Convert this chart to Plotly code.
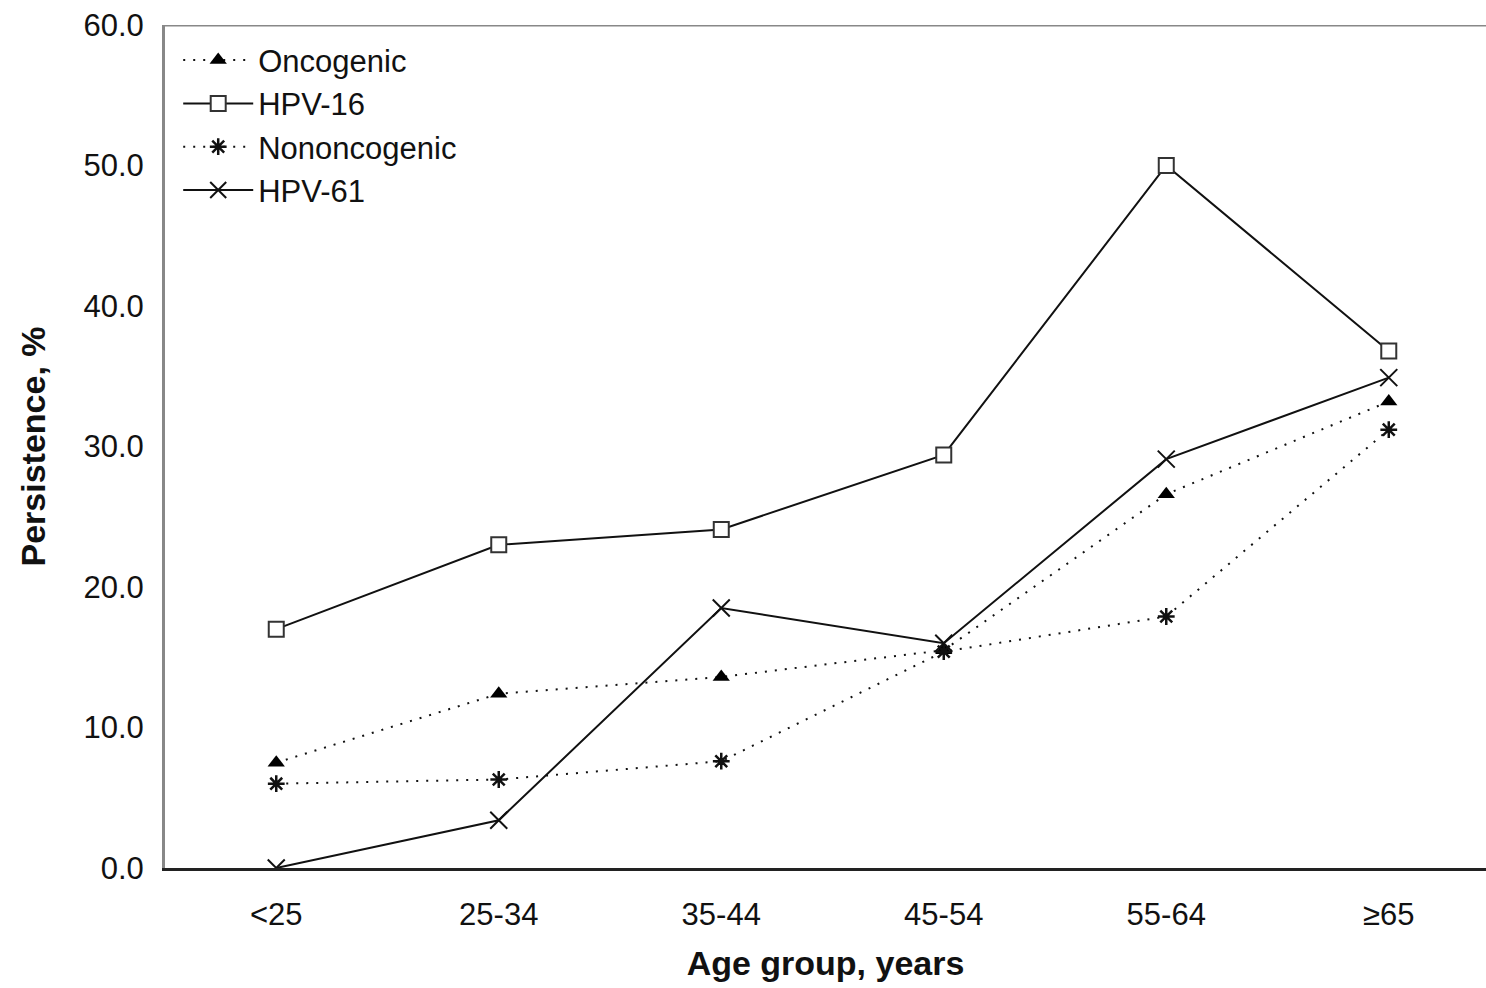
import plotly.graph_objects as go

categories = ["<25", "25-34", "35-44", "45-54", "55-64", "≥65"]
oncogenic = [7.5, 12.4, 13.6, 15.5, 26.6, 33.2]
hpv16 = [17.0, 23.0, 24.1, 29.4, 50.0, 36.8]
nononcogenic = [6.0, 6.3, 7.6, 15.4, 17.9, 31.2]
hpv61 = [0.0, 3.4, 18.5, 16.0, 29.1, 34.9]
y_ticks = [0, 10, 20, 30, 40, 50, 60]

FONT = "Liberation Sans, Arial, sans-serif"
DOT = "2px,8px"

fig = go.Figure()
fig.add_trace(go.Scatter(
    x=categories, y=oncogenic, name="Oncogenic", mode="lines+markers",
    line=dict(color="#111111", width=2, dash=DOT),
    marker=dict(symbol="triangle-up", size=15, color="#000000"),
))
fig.add_trace(go.Scatter(
    x=categories, y=hpv16, name="HPV-16", mode="lines+markers",
    line=dict(color="#111111", width=2),
    marker=dict(symbol="square", size=15, color="white",
                line=dict(color="#333333", width=2)),
))
fig.add_trace(go.Scatter(
    x=categories, y=nononcogenic, name="Nononcogenic", mode="lines+markers",
    line=dict(color="#111111", width=2, dash=DOT),
    marker=dict(symbol="asterisk-open", size=14,
                line=dict(color="#000000", width=2.5)),
))
fig.add_trace(go.Scatter(
    x=categories, y=hpv61, name="HPV-61", mode="lines+markers",
    line=dict(color="#111111", width=2),
    marker=dict(symbol="x-thin-open", size=17,
                line=dict(color="#000000", width=2)),
))

fig.update_layout(
    width=1486, height=988,
    margin=dict(l=165, r=0, t=25, b=120),
    paper_bgcolor="white", plot_bgcolor="white",
    font=dict(family=FONT, color="#111111", size=31),
    showlegend=True,
    legend=dict(
        x=0.01, y=0.99, xanchor="left", yanchor="top",
        font=dict(size=31, family=FONT, color="#111111"),
        bgcolor="rgba(0,0,0,0)", itemwidth=70, tracegroupgap=0,
    ),
    xaxis=dict(
        type="category", range=[-0.5, 5.437],
        showgrid=False, zeroline=False,
        showline=True, linecolor="#222222", linewidth=3,
        ticks="", tickfont=dict(size=31, family=FONT, color="#111111"),
        ticklabelstandoff=17,
        title=dict(text="<b>Age group, years</b>", font=dict(size=34, family=FONT),
                   standoff=20),
    ),
    yaxis=dict(
        range=[0, 60], tickvals=y_ticks,
        ticktext=[f"{v:.1f}" for v in y_ticks],
        showgrid=False, zeroline=False,
        showline=True, linecolor="#888888", linewidth=3,
        ticks="", tickfont=dict(size=31, family=FONT, color="#111111"),
        ticklabelstandoff=12,
        title=dict(text="<b>Persistence, %</b>", font=dict(size=34, family=FONT),
                   standoff=28),
    ),
    shapes=[dict(type="line", xref="paper", yref="y", x0=0, x1=1, y0=60, y1=60,
                 line=dict(color="#888888", width=3))],
)

fig.write_html("out.html")
